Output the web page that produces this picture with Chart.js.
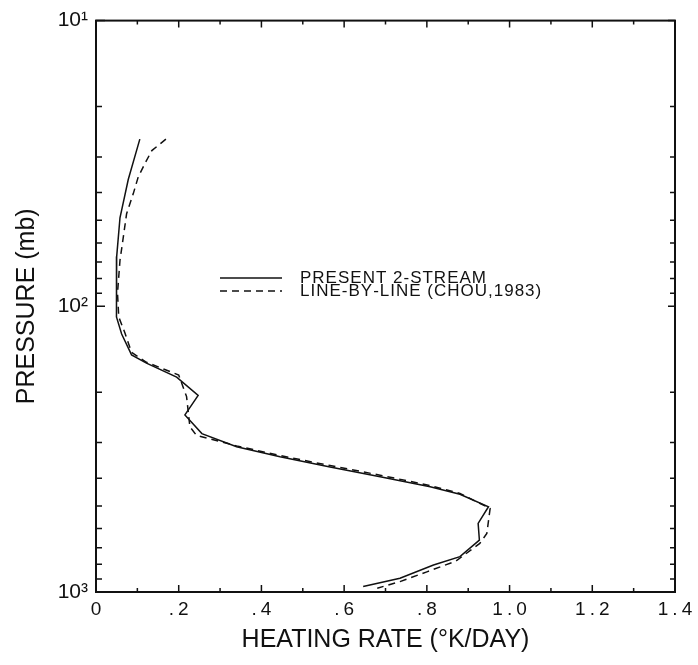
<!DOCTYPE html>
<html><head><meta charset="utf-8">
<script src="https://cdn.jsdelivr.net/npm/chart.js@4.4.0/dist/chart.umd.min.js"></script>
<style>html,body{margin:0;padding:0;background:#fff}#wrap{width:698px;height:665px;position:relative}</style>
</head><body><div id="wrap"><canvas id="c"></canvas></div>
<script>
const xTickValues = [0, 0.2, 0.4, 0.6, 0.8, 1.0, 1.2, 1.4];
const xTickLabels = ['0', '.2', '.4', '.6', '.8', '1.0', '1.2', '1.4'];
const yTickValues = [10, 100, 1000];
const yTickLabels = ['10¹', '10²', '10³'];
const seriesNames = ['PRESENT 2-STREAM', 'LINE-BY-LINE (CHOU,1983)'];

const solidPressure = [26, 36, 49, 67, 90, 109, 125, 148, 158, 177, 205, 240, 279, 310, 336, 365, 395, 428, 455, 503, 575, 658, 752, 804, 895, 957];
const solidRate     = [0.106, 0.078, 0.058, 0.050, 0.049, 0.050, 0.062, 0.086, 0.122, 0.195, 0.247, 0.215, 0.256, 0.340, 0.445, 0.566, 0.687, 0.808, 0.880, 0.949, 0.924, 0.927, 0.880, 0.816, 0.735, 0.646];

const dashedPressure = [26, 28.5, 31.7, 35.3, 40.4, 47.4, 58.7, 69, 90, 109, 124, 145, 157, 174, 207, 264, 283, 308, 333, 361, 390, 424, 452, 510, 624, 676, 780, 850, 920, 970];
const dashedRate     = [0.169, 0.135, 0.118, 0.102, 0.090, 0.074, 0.065, 0.058, 0.052, 0.055, 0.070, 0.086, 0.122, 0.200, 0.219, 0.227, 0.243, 0.340, 0.445, 0.566, 0.687, 0.808, 0.880, 0.953, 0.945, 0.928, 0.870, 0.800, 0.735, 0.680];

const INK = '#111';
const FONT = '"Liberation Sans", Arial, sans-serif';

function drawSpaced(ctx, text, cx, cy, spacing, align) {
  const ws = [...text].map(ch => ctx.measureText(ch).width);
  const total = ws.reduce((a, b) => a + b, 0) + spacing * (ws.length - 1);
  let x = align === 'left' ? cx : cx - total / 2;
  ctx.textAlign = 'left';
  [...text].forEach((ch, i) => { ctx.fillText(ch, x, cy); x += ws[i] + spacing; });
}

const framePlugin = {
  id: 'frame',
  afterDraw(chart) {
    const ctx = chart.ctx, a = chart.chartArea;
    const xs = chart.scales.x, ys = chart.scales.y;
    ctx.save();
    ctx.strokeStyle = INK; ctx.fillStyle = INK;
    ctx.lineWidth = 2;
    ctx.strokeRect(a.left, a.top, a.right - a.left, a.bottom - a.top);
    ctx.lineWidth = 1.5;
    ctx.beginPath();
    for (let i = 0; i <= 14; i++) {
      const px = xs.getPixelForValue(i / 10);
      const len = i % 2 === 0 ? 7 : 4;
      ctx.moveTo(px, a.bottom); ctx.lineTo(px, a.bottom - len);
      ctx.moveTo(px, a.top); ctx.lineTo(px, a.top + len);
    }
    for (const d of [10, 100]) {
      for (let m = 1; m <= 9; m++) {
        const py = ys.getPixelForValue(d * m);
        const len = m === 1 ? 9 : 6;
        ctx.moveTo(a.left, py); ctx.lineTo(a.left + len, py);
        ctx.moveTo(a.right, py); ctx.lineTo(a.right - (m === 1 ? 7 : 5), py);
      }
    }
    ctx.stroke();
    // x tick labels
    ctx.font = '19px ' + FONT;
    ctx.textBaseline = 'middle';
    xTickValues.forEach((v, i) => {
      drawSpaced(ctx, xTickLabels[i], xs.getPixelForValue(v), a.bottom + 18, 4, 'center');
    });
    // legend
    const ds = chart.data.datasets;
    const lx0 = 220, lx1 = 282, tx = 300, rows = [278, 291];
    ds.forEach((d, i) => {
      ctx.setLineDash(d.borderDash || []);
      ctx.lineWidth = 1.5;
      ctx.beginPath(); ctx.moveTo(lx0, rows[i]); ctx.lineTo(lx1, rows[i]); ctx.stroke();
      ctx.setLineDash([]);
      ctx.font = '17px ' + FONT;
      ctx.textBaseline = 'middle';
      drawSpaced(ctx, seriesNames[i], tx, rows[i], 1, 'left');
    });
    ctx.restore();
  }
};

new Chart(document.getElementById('c'), {
  type: 'scatter',
  data: {
    datasets: [
      { label: seriesNames[0], data: solidRate.map((x, i) => ({ x, y: solidPressure[i] })),
        showLine: true, borderColor: INK, borderWidth: 1.5, pointRadius: 0, tension: 0, fill: false },
      { label: seriesNames[1], data: dashedRate.map((x, i) => ({ x, y: dashedPressure[i] })),
        showLine: true, borderColor: INK, borderWidth: 1.5, borderDash: [7, 5], pointRadius: 0, tension: 0, fill: false }
    ]
  },
  options: {
    responsive: true, maintainAspectRatio: false, animation: false,
    layout: { padding: { top: 20, right: 23, left: 0, bottom: 0 } },
    plugins: { legend: { display: false }, tooltip: { enabled: false } },
    scales: {
      x: {
        type: 'linear', position: 'bottom', min: 0, max: 1.4,
        grid: { display: false, drawTicks: false }, border: { display: false },
        ticks: { display: false },
        afterBuildTicks: s => { s.ticks = xTickValues.map(v => ({ value: v })); },
        afterFit: s => { s.height = 73; },
        title: { display: true, text: 'HEATING RATE (°K/DAY)', color: INK,
          font: { family: FONT, size: 25 }, padding: { top: 0, bottom: 10 } }
      },
      y: {
        type: 'logarithmic', position: 'left', min: 10, max: 1000, reverse: true,
        grid: { display: false, drawTicks: false }, border: { display: false },
        ticks: { autoSkip: false, padding: 8, color: INK, font: { family: FONT, size: 21 },
          callback: (v, i) => yTickLabels[i] },
        afterBuildTicks: s => { s.ticks = yTickValues.map(v => ({ value: v })); },
        afterFit: s => { s.width = 96; },
        title: { display: true, text: 'PRESSURE (mb)', color: INK,
          font: { family: FONT, size: 25 }, padding: { top: 12, bottom: 0 } }
      }
    }
  },
  plugins: [framePlugin]
});
</script>
</body></html>
